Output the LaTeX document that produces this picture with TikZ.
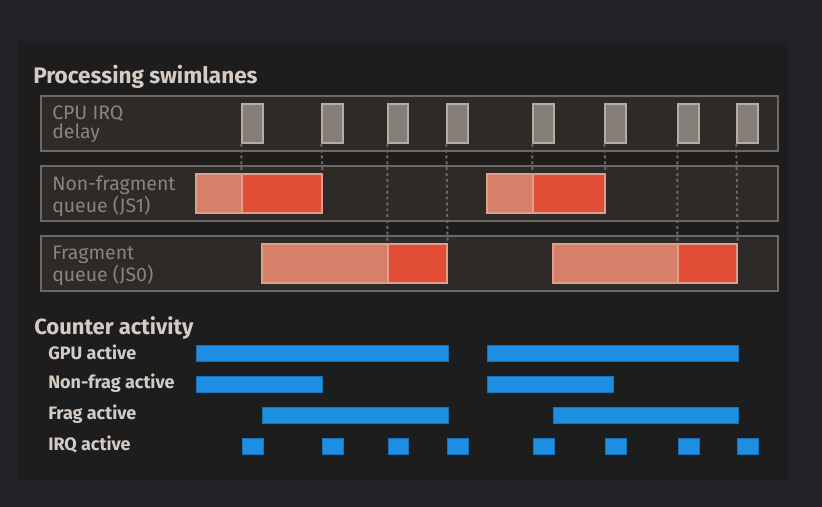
\documentclass[tikz,border=0pt]{standalone}
\usepackage{fontspec}
\setmainfont{Fira Sans}
\usetikzlibrary{fit}

\definecolor{pagebg}{RGB}{34,35,40}
\definecolor{panelbg}{RGB}{29,29,29}
\definecolor{lanefill}{RGB}{46,42,39}
\definecolor{laneline}{RGB}{111,104,98}
\definecolor{irqfill}{RGB}{133,126,120}
\definecolor{irqline}{RGB}{181,172,164}
\definecolor{waitfill}{RGB}{214,128,106}
\definecolor{runfill}{RGB}{226,78,53}
\definecolor{barline}{RGB}{222,160,140}
\definecolor{cntfill}{RGB}{30,143,224}
\definecolor{cntline}{RGB}{24,115,191}
\definecolor{headtext}{RGB}{212,204,196}
\definecolor{lanetext}{RGB}{138,132,126}

\begin{document}
\begin{tikzpicture}[x=0.75pt,y=0.75pt,yscale=-1,xscale=1,
  lane/.style={draw=laneline,fill=lanefill,line width=1.1pt,inner sep=0pt},
  irqbox/.style={draw=irqline,fill=irqfill,line width=1.1pt,inner sep=0pt},
  waitbar/.style={draw=barline,fill=waitfill,line width=0.9pt,inner sep=0pt},
  runbar/.style={draw=barline,fill=runfill,line width=0.9pt,inner sep=0pt},
  cntbar/.style={draw=cntline,fill=cntfill,line width=0.6pt,inner sep=0pt},
  tick/.style={draw=laneline,line width=1.5pt,dash pattern=on 2.2pt off 2.2pt},
  heading/.style={text=headtext,font=\fontsize{16.9}{18}\selectfont\bfseries,inner sep=0pt,anchor=base west},
  lanelabel/.style={text=lanetext,font=\fontsize{14.6}{14.25}\selectfont,align=left,inner sep=0pt,anchor=north west},
  cntlabel/.style={text=headtext,font=\fontsize{13.5}{15}\selectfont\bfseries,inner sep=0pt,anchor=west}]
      \useasboundingbox (0,0) rectangle (822,507);
      \fill [pagebg] (0,0) rectangle (822,507);
      \fill [panelbg] (18,41) rectangle (788,480);

      \node [heading] (swimtitle) at (33,83) {Processing swimlanes};
      \node [lane, fit={(41,96) (778,151)}] (laneirq) {};
      \node [lane, fit={(41,166) (778,221)}] (lanenf) {};
      \node [lane, fit={(41,236) (778,291)}] (lanefr) {};
      \node [lanelabel] (lblirq) at (52,106) {CPU IRQ\\delay};
      \node [lanelabel] (lblnf) at (52,176) {Non-fragment\\queue (JS1)};
      \node [lanelabel] (lblfr) at (52,246) {Fragment\\queue (JS0)};

      \node [irqbox, fit={(242,104) (263,143)}] (d1) {};
      \node [irqbox, fit={(322,104) (343,143)}] (d2) {};
      \node [irqbox, fit={(388,104) (408,143)}] (d3) {};
      \node [irqbox, fit={(447,104) (468,143)}] (d4) {};
      \node [irqbox, fit={(533,104) (554,143)}] (d5) {};
      \node [irqbox, fit={(605,104) (626,143)}] (d6) {};
      \node [irqbox, fit={(678,104) (699,143)}] (d7) {};
      \node [irqbox, fit={(737,104) (758,143)}] (d8) {};

      \node [waitbar, fit={(196,174) (242,213)}] (nf1a) {};
      \node [runbar, fit={(242,174) (322,213)}] (nf1b) {};
      \node [waitbar, fit={(487,174) (533,213)}] (nf2a) {};
      \node [runbar, fit={(533,174) (605,213)}] (nf2b) {};
      \node [waitbar, fit={(262,244) (388,283)}] (fr1a) {};
      \node [runbar, fit={(388,244) (447,283)}] (fr1b) {};
      \node [waitbar, fit={(553,244) (678,283)}] (fr2a) {};
      \node [runbar, fit={(678,244) (737,283)}] (fr2b) {};

      \draw [tick] (d1.south west) -- (nf1b.north west);
      \draw [tick] (d2.south west) -- (nf1b.north east);
      \draw [tick] (d3.south west) -- (fr1b.north west);
      \draw [tick] (d4.south west) -- (fr1b.north east);
      \draw [tick] (d5.south west) -- (nf2b.north west);
      \draw [tick] (d6.south west) -- (nf2b.north east);
      \draw [tick] (d7.south west) -- (fr2b.north west);
      \draw [tick] (d8.south west) -- (fr2b.north east);

      \node [heading, font=\fontsize{16.5}{18}\selectfont\bfseries] (cnttitle) at (34,334) {Counter activity};
      \node [cntlabel] (lblgpu) at (48,352) {GPU active};
      \node [cntlabel] (lblnfa) at (48,383) {Non-frag active};
      \node [cntlabel] (lblfra) at (48,414) {Frag active};
      \node [cntlabel] (lblirqa) at (48,445) {IRQ active};

      \node [cntbar, fit={(196,345) (448,361)}] (gpu1) {};
      \node [cntbar, fit={(487,345) (738,361)}] (gpu2) {};
      \node [cntbar, fit={(196,376) (322,392)}] (nfa1) {};
      \node [cntbar, fit={(487,376) (613,392)}] (nfa2) {};
      \node [cntbar, fit={(262,407) (448,423)}] (fra1) {};
      \node [cntbar, fit={(553,407) (738,423)}] (fra2) {};
      \node [cntbar, fit={(242,438) (263,454)}] (irqa1) {};
      \node [cntbar, fit={(322,438) (343,454)}] (irqa2) {};
      \node [cntbar, fit={(388,438) (408,454)}] (irqa3) {};
      \node [cntbar, fit={(447,438) (468,454)}] (irqa4) {};
      \node [cntbar, fit={(533,438) (554,454)}] (irqa5) {};
      \node [cntbar, fit={(605,438) (626,454)}] (irqa6) {};
      \node [cntbar, fit={(678,438) (699,454)}] (irqa7) {};
      \node [cntbar, fit={(737,438) (758,454)}] (irqa8) {};
  \end{tikzpicture}
\end{document}
